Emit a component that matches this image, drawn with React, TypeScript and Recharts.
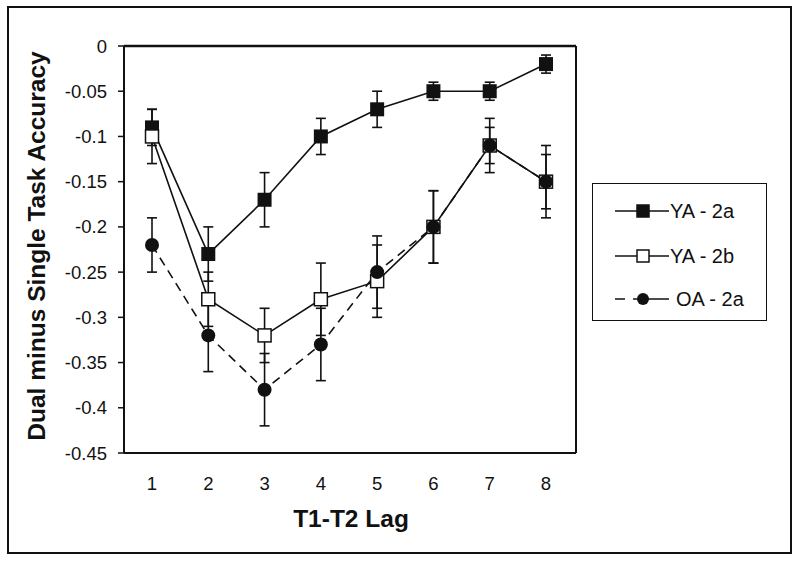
import React from 'react';
import { LineChart, Line, XAxis, YAxis, ErrorBar, Legend, ReferenceLine } from 'recharts';

const lags = [1, 2, 3, 4, 5, 6, 7, 8];
const ya2a = [-0.09, -0.23, -0.17, -0.1, -0.07, -0.05, -0.05, -0.02];
const ya2aErr = [0.02, 0.03, 0.03, 0.02, 0.02, 0.01, 0.01, 0.01];
const ya2b = [-0.1, -0.28, -0.32, -0.28, -0.26, -0.2, -0.11, -0.15];
const ya2bErr = [0.03, 0.03, 0.03, 0.04, 0.04, 0.04, 0.03, 0.04];
const oa2a = [-0.22, -0.32, -0.38, -0.33, -0.25, -0.2, -0.11, -0.15];
const oa2aErr = [0.03, 0.04, 0.04, 0.04, 0.04, 0.04, 0.02, 0.03];
const yTicks = [0, -0.05, -0.1, -0.15, -0.2, -0.25, -0.3, -0.35, -0.4, -0.45];
const legendOrder = ['ya2a', 'ya2b', 'oa2a'];

const data = lags.map((lag, i) => ({
  lag,
  ya2a: ya2a[i],
  ya2aErr: ya2aErr[i],
  ya2b: ya2b[i],
  ya2bErr: ya2bErr[i],
  oa2a: oa2a[i],
  oa2aErr: oa2aErr[i],
}));

const INK = '#111';
const FONT = '"Liberation Sans", Arial, sans-serif';

const FilledSquare = (props: any) => {
  const { cx, cy, index } = props;
  return <rect key={`fs-${index}`} x={cx - 7} y={cy - 7} width={14} height={14} fill={INK} />;
};

const OpenSquare = (props: any) => {
  const { cx, cy, index } = props;
  return <rect key={`os-${index}`} x={cx - 6.5} y={cy - 6.5} width={13} height={13} fill="#fff" stroke={INK} strokeWidth={1.5} />;
};

const FilledCircle = (props: any) => {
  const { cx, cy, index } = props;
  return <circle key={`fc-${index}`} cx={cx} cy={cy} r={7} fill={INK} />;
};

const legendIcon = (key: string) => {
  if (key === 'oa2a') {
    return (
      <svg width={54} height={16}>
        <line x1={0} y1={8} x2={10} y2={8} stroke={INK} strokeWidth={1.5} />
        <line x1={18} y1={8} x2={54} y2={8} stroke={INK} strokeWidth={1.5} />
        <circle cx={28} cy={8} r={6} fill={INK} />
      </svg>
    );
  }
  return (
    <svg width={54} height={16}>
      <line x1={0} y1={8} x2={54} y2={8} stroke={INK} strokeWidth={1.5} />
      <rect x={22} y={2} width={12} height={12} fill={key === 'ya2a' ? INK : '#fff'} stroke={INK} strokeWidth={1.5} />
    </svg>
  );
};

const LegendBox = (props: any) => {
  const { payload = [] } = props;
  const rows = [27, 72, 115];
  const entries = legendOrder
    .map((k) => payload.find((p: any) => p.dataKey === k))
    .filter(Boolean);
  return (
    <div style={{ position: 'relative', width: 175, height: 138, border: `1.5px solid ${INK}`, boxSizing: 'border-box', fontFamily: FONT }}>
      {entries.map((entry: any, i: number) => (
        <div key={entry.dataKey} style={{ position: 'absolute', left: 22, top: rows[i] - 12, height: 24, display: 'flex', alignItems: 'center', whiteSpace: 'nowrap' }}>
          {legendIcon(entry.dataKey)}
          <span style={{ fontSize: 20, color: INK, marginLeft: entry.dataKey === 'oa2a' ? 7 : 1 }}>{entry.value}</span>
        </div>
      ))}
    </div>
  );
};

const YLabel = () => (
  <text x={45} y={246} transform="rotate(-90, 45, 246)" textAnchor="middle" fontSize={24.5} fontWeight="bold" fill={INK} fontFamily={FONT}>
    Dual minus Single Task Accuracy
  </text>
);

const XLabel = () => (
  <text x={351} y={527} textAnchor="middle" fontSize={24.5} fontWeight="bold" fill={INK} fontFamily={FONT}>
    T1-T2 Lag
  </text>
);

export default function App() {
  return (
    <div style={{ position: 'absolute', left: 0, top: 0, width: 800, height: 562, background: '#fff', fontFamily: FONT }}>
      <div style={{ position: 'absolute', left: 7, top: 6, width: 785, height: 548, border: `2px solid ${INK}`, boxSizing: 'border-box' }} />
      <LineChart width={800} height={562} data={data} margin={{ top: 46, right: 223, bottom: 0, left: 0 }}>
        <XAxis
          dataKey="lag"
          height={109}
          padding={{ left: 28, right: 30 }}
          tickLine={false}
          tickSize={0}
          tickMargin={24}
          axisLine={{ stroke: INK, strokeWidth: 2 }}
          tick={{ fill: INK, fontSize: 18.5, fontFamily: FONT }}
          label={<XLabel />}
        />
        <YAxis
          type="number"
          width={124}
          domain={[-0.45, 0]}
          ticks={yTicks}
          interval={0}
          tickSize={6}
          tickMargin={11}
          tickLine={{ stroke: INK, strokeWidth: 1.5 }}
          axisLine={{ stroke: INK, strokeWidth: 2 }}
          tick={{ fill: INK, fontSize: 18.5, fontFamily: FONT }}
          label={<YLabel />}
        />
        <YAxis
          yAxisId="r"
          orientation="right"
          type="number"
          width={1}
          domain={[-0.45, 0]}
          tick={false}
          tickLine={false}
          axisLine={{ stroke: INK, strokeWidth: 2 }}
        />
        <ReferenceLine y={0} stroke={INK} strokeWidth={2.5} />
        <Legend
          layout="vertical"
          align="center"
          verticalAlign="middle"
          content={<LegendBox />}
          wrapperStyle={{ left: 592, top: 183, width: 175, height: 138 }}
        />
        <Line
          dataKey="ya2a"
          name="YA - 2a"
          stroke={INK}
          strokeWidth={1.6}
          dot={FilledSquare}
          activeDot={false}
          isAnimationActive={false}
        >
          <ErrorBar dataKey="ya2aErr" direction="y" width={5} stroke={INK} strokeWidth={1.6} />
        </Line>
        <Line
          dataKey="ya2b"
          name="YA - 2b"
          stroke={INK}
          strokeWidth={1.6}
          dot={OpenSquare}
          activeDot={false}
          isAnimationActive={false}
        >
          <ErrorBar dataKey="ya2bErr" direction="y" width={5} stroke={INK} strokeWidth={1.6} />
        </Line>
        <Line
          dataKey="oa2a"
          name="OA - 2a"
          stroke={INK}
          strokeWidth={1.6}
          strokeDasharray="9 6"
          dot={FilledCircle}
          activeDot={false}
          isAnimationActive={false}
        >
          <ErrorBar dataKey="oa2aErr" direction="y" width={5} stroke={INK} strokeWidth={1.6} />
        </Line>
      </LineChart>
    </div>
  );
}
